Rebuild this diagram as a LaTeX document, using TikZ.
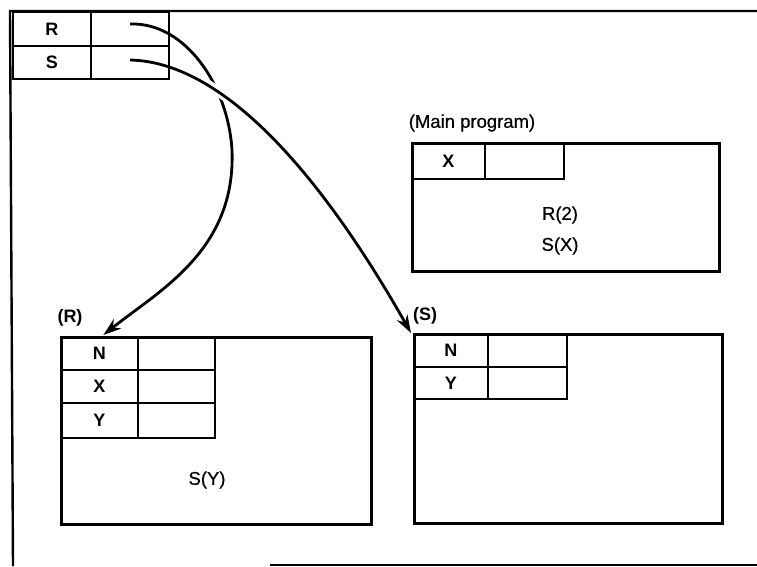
\documentclass[tikz,border=0pt]{standalone}
\usepackage{fontspec}
\setmainfont{Liberation Sans}
\newfontfamily\medfont[FakeBold=0.6]{Liberation Sans}
\usetikzlibrary{arrows.meta,calc}
\begin{document}
\begin{tikzpicture}[x=1pt,y=-1pt,
  font=\fontsize{18.5}{21}\selectfont\medfont,
  box/.style={draw, line width=2.6pt, anchor=north west, inner sep=0pt},
  cell/.style={draw, line width=1.7pt, anchor=north west, inner sep=0pt},
  bl/.style={font=\fontsize{18}{21}\selectfont\bfseries},
  txt/.style={inner sep=0pt},
  arr/.style={line width=2.8pt, -{Stealth[length=18pt,width=12pt]}},
  framel/.style={line width=2.4pt}]
\useasboundingbox (0,0) rectangle (757,566);
% outer frame
\coordinate (f1) at (10,11);
\coordinate (f2) at (757,11);
\coordinate (f3) at (13,566);
\coordinate (f4) at (270,565);
\coordinate (f5) at (757,565);
\draw[framel] (f2) -- (f1) -- (f3);
\draw[framel] (f4) -- (f5);
% main program
\node[txt] (mlab) at (472,123) {(Main program)};
\node[box, minimum width=307pt, minimum height=128pt] (main) at (411,142) {};
\node[cell, bl, minimum width=73pt, minimum height=36pt] (mx) at (411,142) {X};
\node[cell, minimum width=79pt, minimum height=36pt] (mxv) at (484,142) {};
\node[txt] (r2) at (560,215) {R(2)};
\node[txt] (sx) at (560,246) {S(X)};
% R box
\node[txt,bl] (rlab) at (70,318) {(R)};
\node[box, minimum width=310pt, minimum height=187pt] (rbox) at (60,336) {};
\node[cell, bl, minimum width=77pt, minimum height=33pt] (rn) at (60,336) {N};
\node[cell, minimum width=77pt, minimum height=33pt] (rnv) at (137,336) {};
\node[cell, bl, minimum width=77pt, minimum height=33pt] (rx) at (60,369) {X};
\node[cell, minimum width=77pt, minimum height=33pt] (rxv) at (137,369) {};
\node[cell, bl, minimum width=77pt, minimum height=35pt] (ry) at (60,402) {Y};
\node[cell, minimum width=77pt, minimum height=35pt] (ryv) at (137,402) {};
\node[txt] (sy) at (207,480) {S(Y)};
% S box
\node[txt,bl] (slab) at (425,316) {(S)};
\node[box, minimum width=308pt, minimum height=189pt] (sbox) at (413,333) {};
\node[cell, bl, minimum width=74pt, minimum height=33pt] (sn) at (413,333) {N};
\node[cell, minimum width=79pt, minimum height=33pt] (snv) at (487,333) {};
\node[cell, bl, minimum width=74pt, minimum height=32pt] (syl) at (413,366) {Y};
\node[cell, minimum width=79pt, minimum height=32pt] (syv) at (487,366) {};
% arrow R
\coordinate (rs) at (130,24);
\coordinate (ss) at (130,60);
\coordinate (rbend) at (232,150);
\draw[arr] (rs) .. controls (185,22) and (228,85) .. (rbend)
  .. controls (236,250) and (160,290) .. ($(rn.north)+(4,-1)$);
% white bridge under arrow S
\draw[draw=white, line width=10pt, shorten >=40pt]
  (ss) .. controls (230,62) and (330,190) .. ($(sbox.north west)+(-2,0)$);
% top-left table
\node[cell, bl, minimum width=78pt, minimum height=34pt] (tr) at (12,11) {R};
\node[cell, minimum width=78pt, minimum height=34pt] (trv) at (90,11) {};
\node[cell, bl, minimum width=78pt, minimum height=33pt] (ts) at (12,45) {S};
\node[cell, minimum width=78pt, minimum height=33pt] (tsv) at (90,45) {};
% arrow S
\draw[arr]
  (ss) .. controls (230,62) and (330,190) .. ($(sbox.north west)+(-2,0)$);
\end{tikzpicture}
\end{document}
